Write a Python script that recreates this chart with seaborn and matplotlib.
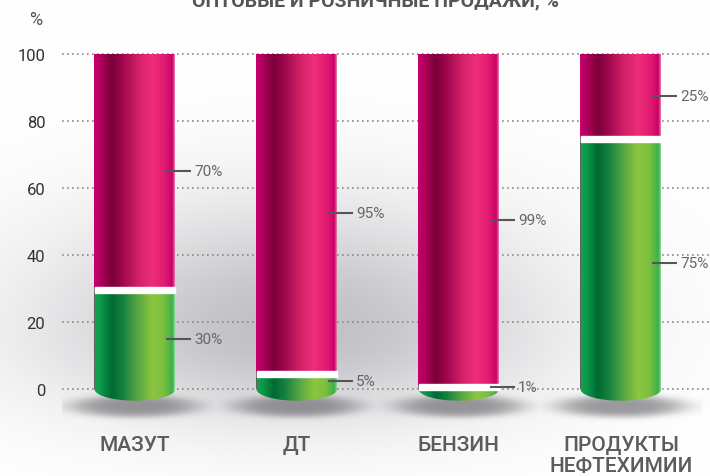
import numpy as np
import pandas as pd
import matplotlib
matplotlib.use("Agg")
import matplotlib.pyplot as plt
import seaborn as sns
from matplotlib.colors import LinearSegmentedColormap
from matplotlib.path import Path
from matplotlib.patches import PathPatch

# Data
categories = ["МАЗУТ", "ДТ", "БЕНЗИН", "ПРОДУКТЫ\nНЕФТЕХИМИИ"]
lower_share = [30, 5, 1, 75]    # green part
upper_share = [70, 95, 99, 25]  # magenta part
y_ticks = [0, 20, 40, 60, 80, 100]
title = "ОПТОВЫЕ И РОЗНИЧНЫЕ ПРОДАЖИ, %"

df = pd.DataFrame({
    "cat": categories,
    "lower": lower_share,
    "total": [a + b for a, b in zip(lower_share, upper_share)],
})

sns.set_style("white")
plt.rcParams["font.family"] = ["Roboto", "DejaVu Sans"]

pink_cmap = LinearSegmentedColormap.from_list("pink", [
    (0.0, "#c8006c"), (0.08, "#b2005e"), (0.22, "#7a0038"), (0.36, "#a2084e"),
    (0.55, "#d22268"), (0.72, "#ee2e7a"), (0.88, "#e01a70"), (0.97, "#cc006a"),
    (1.0, "#e680aa")])
green_cmap = LinearSegmentedColormap.from_list("green", [
    (0.0, "#16a652"), (0.08, "#0a984a"), (0.22, "#006a32"), (0.36, "#168240"),
    (0.55, "#5aa844"), (0.72, "#8cc63f"), (0.86, "#7cc040"), (0.97, "#3cb04a"),
    (1.0, "#8ad69a")])
grad = np.linspace(0, 1, 256).reshape(1, -1)

fig = plt.figure(figsize=(7.1, 4.77), dpi=100)

# soft grey glow behind the chart
bg = fig.add_axes([0, 0, 1, 1], zorder=-1)
yy, xx = np.mgrid[0:477:3, 0:710:3]
ry = np.where(yy < 330, 125, 90)
dark = 0.25 * np.exp(-((xx - 290) / 250.0) ** 2 - ((yy - 330) / ry) ** 2)
glow = np.dstack([1 - dark, 1 - dark, 1 - dark * 0.92])
bg.imshow(glow, extent=[0, 1, 0, 1], aspect="auto", interpolation="bilinear")
bg.axis("off")

ax = fig.add_axes([62 / 710, 1 - 423.5 / 477, 1 - 62 / 710, (423.5 - 38) / 477])
ax.set_facecolor("none")

sns.barplot(data=df, x="cat", y="total", width=0.5, color="#d0006a", ax=ax)
pink_bars = list(ax.patches)
sns.barplot(data=df, x="cat", y="lower", width=0.5, color="#3cb04a", ax=ax)
green_bars = list(ax.patches)[len(pink_bars):]

ell = 3.5  # depth of rounded bottom, in data units
for i, (pb, gb) in enumerate(zip(pink_bars, green_bars)):
    x0, w, top = pb.get_x(), pb.get_width(), pb.get_height()
    c = x0 + w / 2
    v = gb.get_height()
    pb.set_facecolor("none")
    pb.set_edgecolor("none")
    gb.set_facecolor("none")
    gb.set_edgecolor("none")

    # shadow under the cylinder
    sx = np.linspace(-0.5, 0.5, 120)
    sy = np.linspace(-10, -1, 60)
    SX, SY = np.meshgrid(sx, sy)
    r2 = (SX / 0.4) ** 2 + ((SY + 5.4) / 3.3) ** 2
    shade = np.zeros(SX.shape + (4,))
    shade[..., :3] = [0.36, 0.36, 0.38]
    shade[..., 3] = 0.6 * np.exp(-r2 ** 2)
    ax.imshow(shade, extent=[c - 0.5, c + 0.5, -10, -1], aspect="auto",
              origin="lower", interpolation="bilinear", zorder=1)

    # magenta body
    im = ax.imshow(grad, cmap=pink_cmap, extent=[x0, x0 + w, 0, top],
                   aspect="auto", interpolation="bilinear", zorder=2)
    im.set_clip_path(pb)

    # green body with rounded bottom
    theta = np.linspace(np.pi, 2 * np.pi, 60)
    verts = [(x0, v)] + list(zip(c + w / 2 * np.cos(theta), ell * np.sin(theta))) \
        + [(x0 + w, v), (x0, v)]
    codes = [Path.MOVETO] + [Path.LINETO] * (len(verts) - 2) + [Path.CLOSEPOLY]
    clip = PathPatch(Path(verts, codes), transform=ax.transData,
                     facecolor="none", edgecolor="none")
    ax.add_patch(clip)
    im = ax.imshow(grad, cmap=green_cmap, extent=[x0, x0 + w, -ell, v],
                   aspect="auto", interpolation="bilinear", zorder=3)
    im.set_clip_path(clip)

    # white separator
    ax.bar(c, 1.8, bottom=v - 1.3, width=w * 0.99, color="white", zorder=4)

    # leader lines and labels
    for mid, val in [(v / 2, lower_share[i]), (v + (top - v) / 2, upper_share[i])]:
        ax.plot([c + 0.19, c + 0.345], [mid, mid], color="#555555", lw=1.5,
                solid_capstyle="butt", zorder=5)
        ax.text(c + 0.365, mid, f"{val}%", va="center", ha="left",
                fontsize=11, color="#666666", zorder=5)

ax.set_xlim(-0.45, 3.55)
ax.set_ylim(-10, 105)
ax.set_yticks(y_ticks)
ax.set_axisbelow(True)
ax.yaxis.grid(True, linestyle=(0, (1, 2)), color="#8a8a8a", lw=1.2)
ax.xaxis.grid(False)
sns.despine(ax=ax, left=True, bottom=True)
ax.set_xlabel("")
ax.set_ylabel("")
ax.tick_params(axis="y", length=0, pad=12, labelsize=12, labelcolor="#333333")
ax.tick_params(axis="x", length=0, pad=9, labelsize=15, labelcolor="#5c5c5c")
for lbl in ax.get_xticklabels():
    lbl.set_fontweight(500)
    lbl.set_linespacing(1.1)

# title is cut off at the top edge, as in the reference
fig.text(375 / 710, 1 - 6 / 477, title, ha="center", va="baseline",
         fontsize=14, fontweight="bold", color="#555555")
fig.text(36 / 710, 1 - 20 / 477, "%", ha="center", va="center",
         fontsize=13, color="#555555")

fig.savefig("out.png", dpi=100)
